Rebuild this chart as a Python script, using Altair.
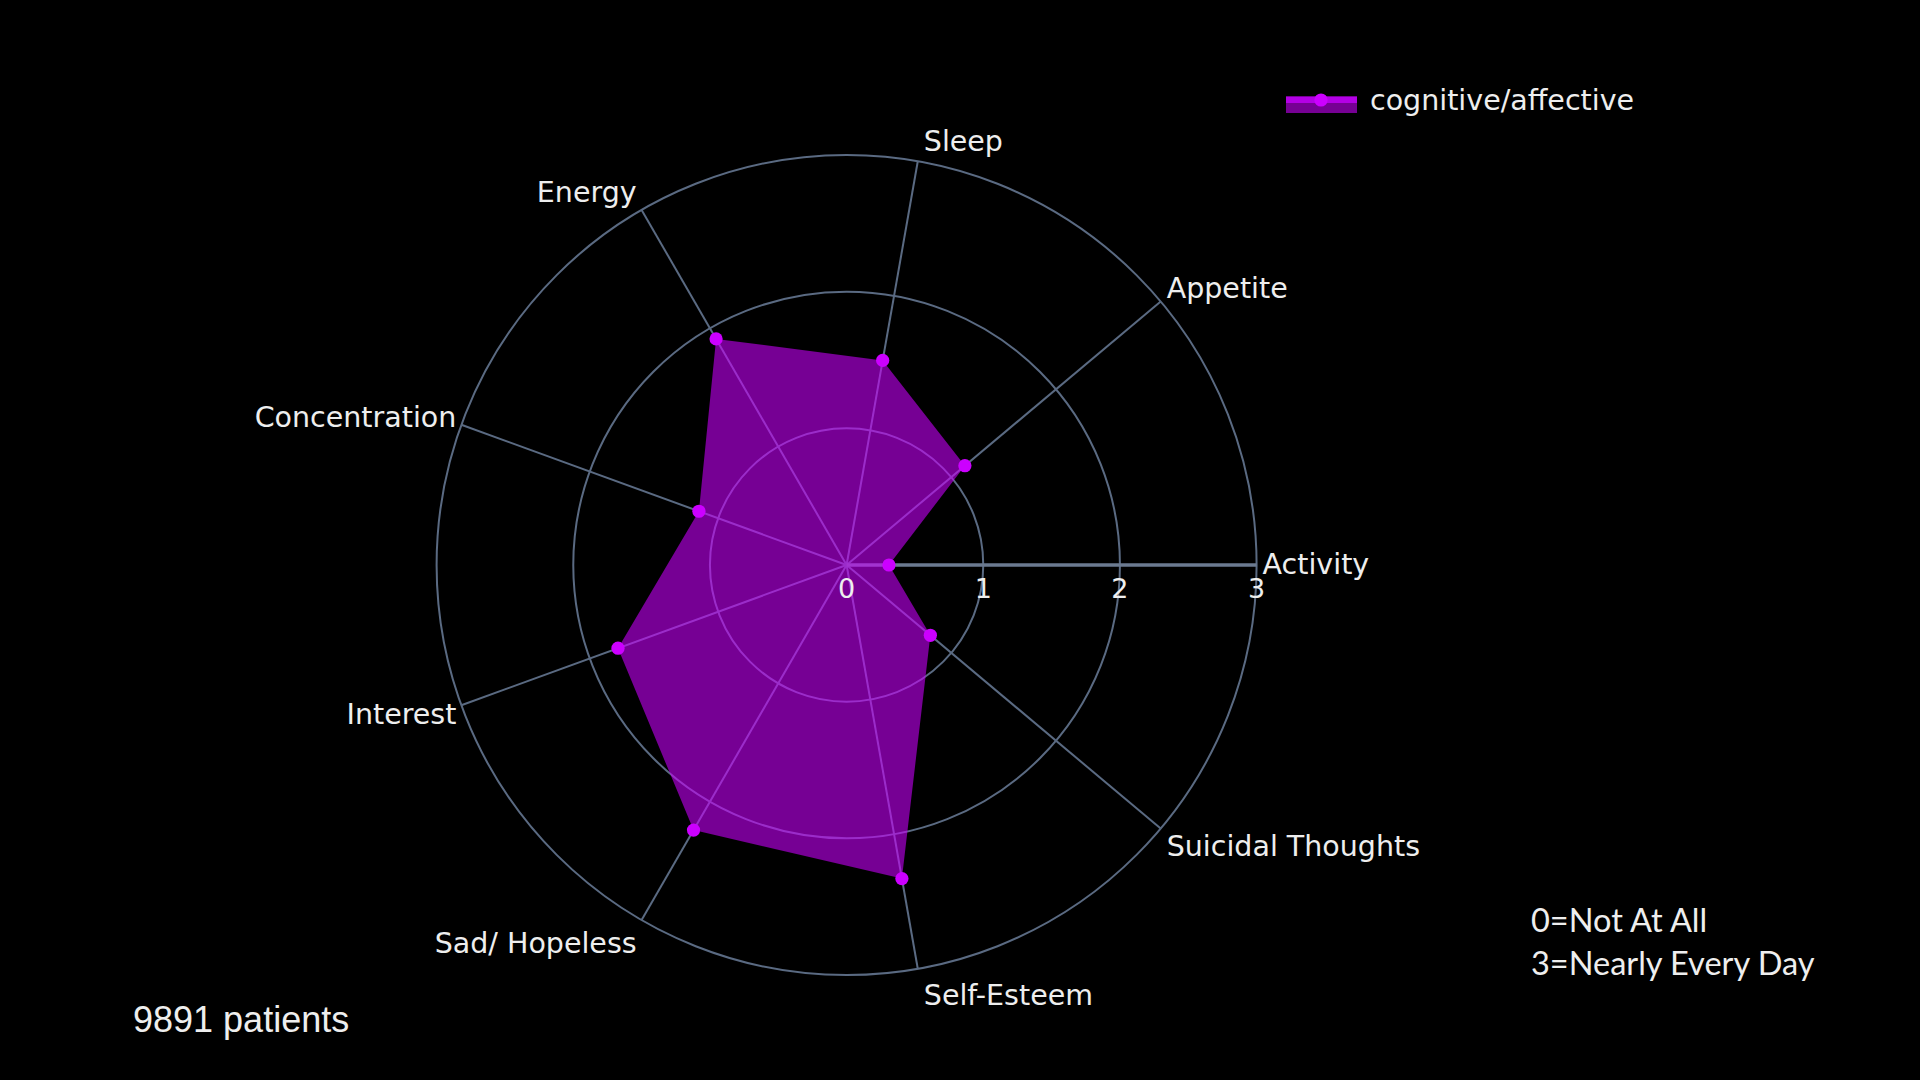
import math
import altair as alt
import pandas as pd

# ---------------- data ----------------
categories = ["Activity", "Appetite", "Sleep", "Energy", "Concentration",
              "Interest", "Sad/ Hopeless", "Self-Esteem", "Suicidal Thoughts"]
values = [0.31, 1.13, 1.52, 1.91, 1.15, 1.78, 2.24, 2.33, 0.80]
ring_levels = [1, 2, 3]
tick_values = [0, 1, 2, 3]
series_name = "cognitive/affective"
patients_note = "9891 patients"
scale_notes = ["0=Not At All", "3=Nearly Every Day"]

# ---------------- styling ----------------
N = len(categories)
RMAX = max(ring_levels)
SIZE = 820                      # plot square (px)
U = SIZE / (2 * RMAX)           # px per data unit
OX, OY = 436.6, 155             # plot origin in page
BG = "#000000"
GRID = "#5a6a82"
AXIS = "#6b7a90"
PURPLE = "#cc00ff"
TXT = "#eeeeee"
FONT = "DejaVu Sans"

df = pd.DataFrame({"category": categories, "value": values, "idx": list(range(N))})
rings = pd.DataFrame({"ring": ring_levels})
ticks = pd.DataFrame({"tick": tick_values})

xs = alt.Scale(domain=[-RMAX, RMAX])
ys = alt.Scale(domain=[-RMAX, RMAX])
theta_expr = f"datum.idx * 2 * PI / {N}"

base = alt.Chart(df).transform_calculate(t=theta_expr)

# concentric grid circles (symbol diameter = sqrt(size))
circles = alt.Chart(rings).transform_calculate(z="0").mark_point(
    shape="circle", filled=False, color=GRID, strokeWidth=2, opacity=1
).encode(
    x=alt.X("z:Q", scale=xs, axis=None),
    y=alt.Y("z:Q", scale=ys, axis=None),
    size=alt.Size("ring:Q", legend=None,
                  scale=alt.Scale(type="pow", exponent=2, domain=[0, RMAX],
                                  range=[0, (2 * RMAX * U) ** 2], zero=True)),
)

# spokes
spokes = base.transform_calculate(
    ex=f"{RMAX} * cos(datum.t)", ey=f"{RMAX} * sin(datum.t)", zx="0", zy="0"
).mark_rule(color=GRID, strokeWidth=2).encode(
    x=alt.X("zx:Q", scale=xs, axis=None),
    y=alt.Y("zy:Q", scale=ys, axis=None),
    x2="ex:Q",
    y2="ey:Q",
)

# radial axis line (along first category)
axis_line = alt.Chart(pd.DataFrame({"a": [0], "b": [RMAX], "z": [0]})).mark_rule(
    color=AXIS, strokeWidth=3.5
).encode(
    x=alt.X("a:Q", scale=xs, axis=None), x2="b:Q",
    y=alt.Y("z:Q", scale=ys, axis=None),
)

pts = base.transform_calculate(
    px="datum.value * cos(datum.t)", py="datum.value * sin(datum.t)"
)

polygon = pts.mark_line(
    fill=PURPLE, fillOpacity=0.58, strokeOpacity=0, interpolate="linear-closed"
).encode(
    x=alt.X("px:Q", scale=xs, axis=None),
    y=alt.Y("py:Q", scale=ys, axis=None),
    order=alt.Order("idx:Q"),
)

dots = pts.mark_circle(size=175, color=PURPLE, opacity=1).encode(
    x=alt.X("px:Q", scale=xs, axis=None),
    y=alt.Y("py:Q", scale=ys, axis=None),
)

lab = base.transform_calculate(
    c="cos(datum.t)",
    lx=f"{RMAX} * cos(datum.t) + (cos(datum.t) > 0 ? 1 : -1) * 5 / {U}",
    ly=f"{RMAX} * sin(datum.t) + (24 * sin(datum.t) - 4 * abs(sin(datum.t))) / {U}",
)
labels_right = lab.transform_filter("datum.c > 0.01").mark_text(
    align="left", baseline="middle", dx=1, font=FONT, fontSize=28.5, color=TXT
).encode(
    x=alt.X("lx:Q", scale=xs, axis=None), y=alt.Y("ly:Q", scale=ys, axis=None), text="category:N"
)
labels_left = lab.transform_filter("datum.c < -0.01").mark_text(
    align="right", baseline="middle", font=FONT, fontSize=28.5, color=TXT
).encode(
    x=alt.X("lx:Q", scale=xs, axis=None), y=alt.Y("ly:Q", scale=ys, axis=None), text="category:N"
)

tick_labels = alt.Chart(ticks).transform_calculate(z="0").mark_text(
    align="center", baseline="middle", dy=25, font=FONT, fontSize=27, color=TXT
).encode(
    x=alt.X("tick:Q", scale=xs, axis=None),
    y=alt.Y("z:Q", scale=ys, axis=None),
    text="tick:Q",
)

one = alt.Chart(pd.DataFrame({"n": [series_name]}))

# legend (manual)
leg_rect = one.mark_rect(color=PURPLE, opacity=0.58).encode(
    x=alt.value(1286 - OX), x2=alt.value(1357 - OX),
    y=alt.value(96 - OY), y2=alt.value(113 - OY),
)
leg_line = one.mark_rule(color="#b400e6", strokeWidth=6).encode(
    x=alt.value(1286 - OX), x2=alt.value(1357 - OX), y=alt.value(100 - OY),
)
leg_dot = one.mark_circle(size=175, color=PURPLE, opacity=1).encode(
    x=alt.value(1321 - OX), y=alt.value(100 - OY),
)
leg_text = one.mark_text(
    align="left", baseline="alphabetic", font=FONT, fontSize=28.5, color=TXT
).encode(x=alt.value(1370 - OX), y=alt.value(110 - OY), text="n:N")

patients = alt.Chart(pd.DataFrame({"n": [patients_note]})).mark_text(
    align="left", baseline="alphabetic", font="Liberation Sans", fontSize=36, color=TXT
).encode(x=alt.value(133 - OX), y=alt.value(1032 - OY), text="n:N")

note_layers = []
for k, note in enumerate(scale_notes):
    note_layers.append(
        alt.Chart(pd.DataFrame({"n": [note]})).mark_text(
            align="left", baseline="alphabetic", font="Lato", fontSize=32.5, color=TXT
        ).encode(x=alt.value(1531 - OX), y=alt.value(932 - OY + k * 43), text="n:N")
    )

chart = alt.layer(
    circles, spokes, axis_line, polygon, dots,
    labels_right, labels_left, tick_labels,
    leg_rect, leg_line, leg_dot, leg_text, patients, *note_layers,
).properties(
    width=SIZE, height=SIZE,
    background=BG,
    autosize=alt.AutoSizeParams(type="none"),
    padding={"left": OX, "top": OY, "right": 1920 - OX - SIZE, "bottom": 1080 - OY - SIZE},
).configure_view(stroke=None).resolve_scale(x="shared", y="shared")

chart.save("out.html", embed_options={"renderer": "svg", "actions": False})
